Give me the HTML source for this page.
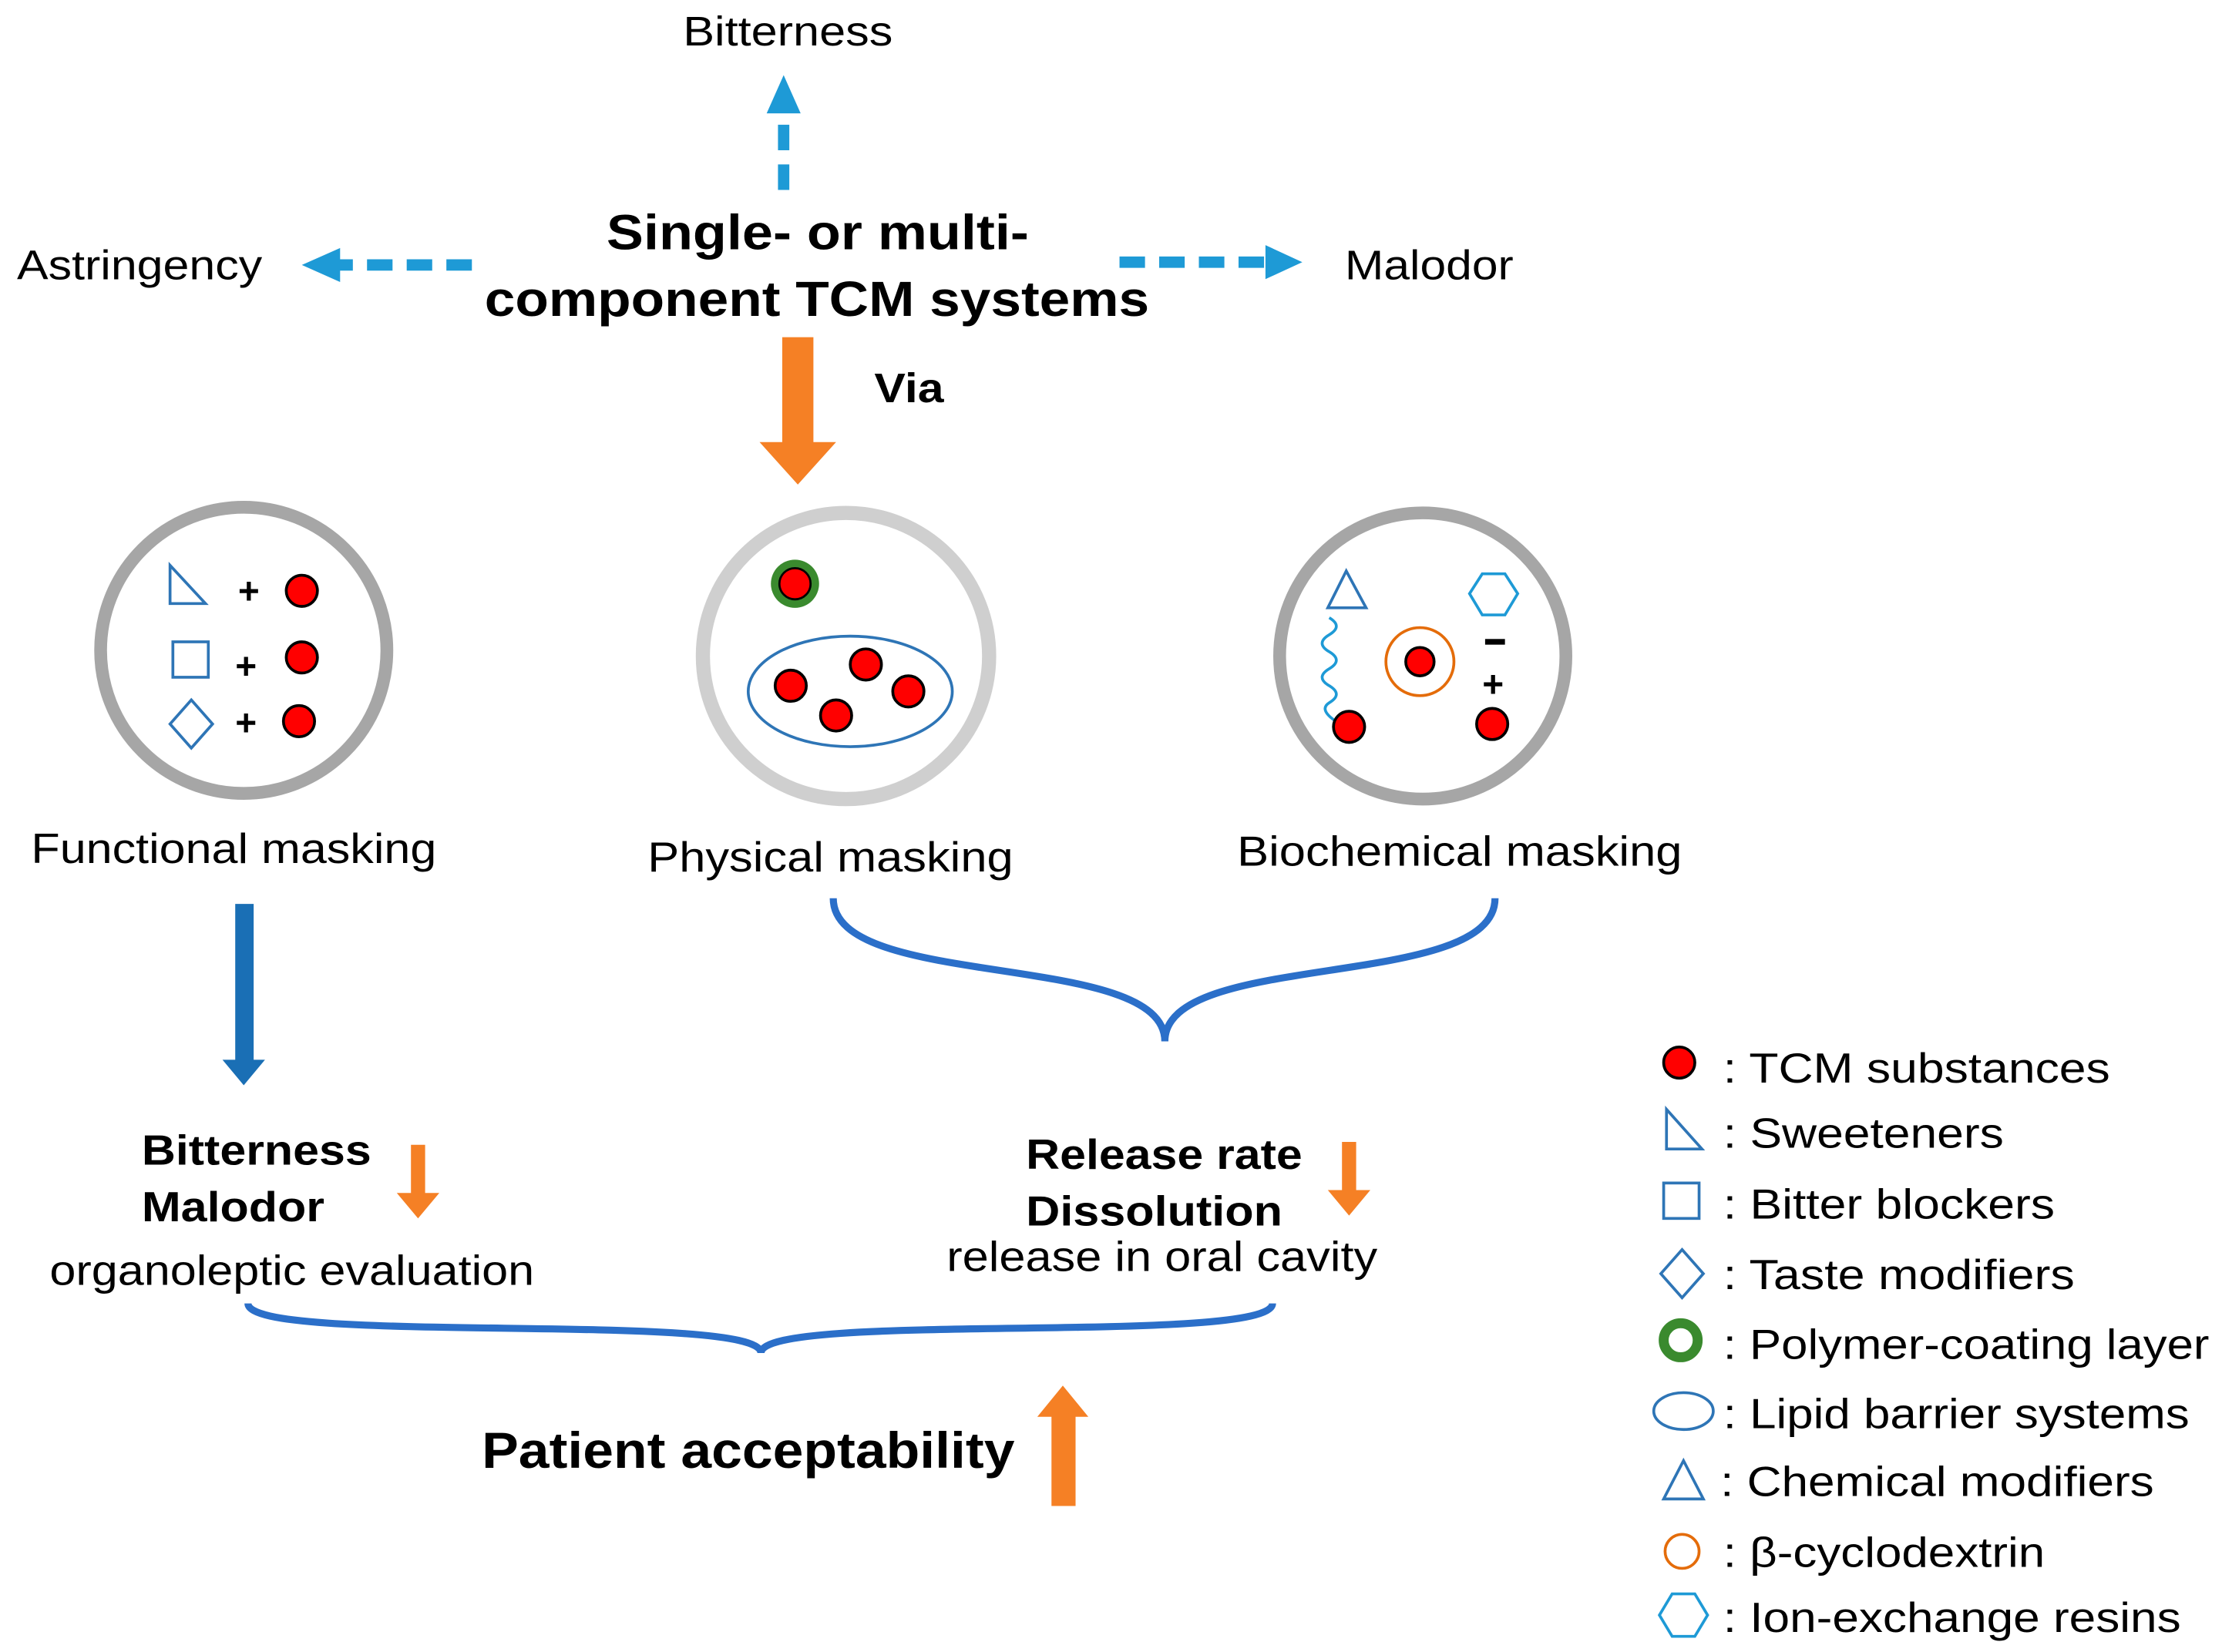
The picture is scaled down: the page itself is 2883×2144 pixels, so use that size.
<!DOCTYPE html>
<html><head><meta charset="utf-8"><style>
html,body{margin:0;padding:0;background:#fff;}
svg{display:block;}
text{font-family:"Liberation Sans",Arial,sans-serif;fill:#000;}
</style></head><body>
<svg width="2883" height="2144" viewBox="0 0 1568 1166" xmlns="http://www.w3.org/2000/svg">
<g lengthAdjust="spacingAndGlyphs">
<text x="482" y="32" font-size="29" textLength="148" lengthAdjust="spacingAndGlyphs">Bitterness</text>
<text x="12" y="197" font-size="29" textLength="173" lengthAdjust="spacingAndGlyphs">Astringency</text>
<text x="949" y="197" font-size="29" textLength="119" lengthAdjust="spacingAndGlyphs">Malodor</text>
<text x="428" y="176" font-size="35" font-weight="bold" textLength="298" lengthAdjust="spacingAndGlyphs">Single- or multi-</text>
<text x="342" y="223" font-size="35" font-weight="bold" textLength="469" lengthAdjust="spacingAndGlyphs">component TCM systems</text>
<text x="617" y="284" font-size="29" font-weight="bold" textLength="49" lengthAdjust="spacingAndGlyphs">Via</text>
</g>
<g stroke="#1e9ad6" stroke-width="8" fill="none" stroke-dasharray="18,10">
<line x1="553" y1="134" x2="553" y2="78"/>
<line x1="333" y1="187" x2="238" y2="187"/>
<line x1="790" y1="185" x2="895" y2="185"/>
</g>
<g fill="#1e9ad6">
<polygon points="541,80 565,80 553,53"/>
<polygon points="240,175 240,199 213,187"/>
<polygon points="893,173 893,197 919,185"/>
</g>
<polygon points="552,238 574,238 574,312 590,312 563,342 536,312 552,312" fill="#f58025"/>
<circle cx="172" cy="459" r="101" fill="#fff" stroke="#a6a6a6" stroke-width="9"/>
<circle cx="597" cy="463" r="101" fill="#fff" stroke="#cfcfcf" stroke-width="10"/>
<circle cx="1004" cy="463" r="101" fill="#fff" stroke="#a6a6a6" stroke-width="9"/>
<g stroke="#2e75b6" stroke-width="2" fill="none">
<polygon points="120,399 120,426 145,426"/>
<rect x="122" y="453" width="25" height="25"/>
<polygon points="135,494 150,511 135,528 120,511"/>
</g>
<g font-size="26" font-weight="bold"><text x="168" y="426">+</text><text x="166" y="479">+</text><text x="166" y="519">+</text></g>
<g fill="#ff0000" stroke="#000" stroke-width="2">
<circle cx="213" cy="417" r="11"/><circle cx="213" cy="464" r="11"/><circle cx="211" cy="509" r="11"/>
</g>
<circle cx="561" cy="412" r="17" fill="#3a8a2e"/>
<circle cx="561" cy="412" r="11" fill="#ff0000" stroke="#000" stroke-width="1.5"/>
<ellipse cx="600" cy="488" rx="72" ry="39" fill="none" stroke="#2e75b6" stroke-width="2"/>
<g fill="#ff0000" stroke="#000" stroke-width="2">
<circle cx="558" cy="484" r="11"/><circle cx="611" cy="469" r="11"/><circle cx="641" cy="488" r="11"/><circle cx="590" cy="505" r="11"/>
</g>
<polygon points="950,403 937,429 964,429" fill="none" stroke="#2e75b6" stroke-width="2"/>
<polygon points="1046,405 1062,405 1071,419 1062,434 1046,434 1037,419" fill="none" stroke="#1e9ad6" stroke-width="2"/>
<path d="M938,436 q10,6 0,12 q-10,6 0,12 q10,6 0,12 q-10,6 0,12 q10,6 0,12 q-8,5 6,14" fill="none" stroke="#1e9ad6" stroke-width="2"/>
<circle cx="1002" cy="467" r="24" fill="none" stroke="#e46c0a" stroke-width="2"/>
<g fill="#ff0000" stroke="#000" stroke-width="2">
<circle cx="1002" cy="467" r="10"/><circle cx="952" cy="513" r="11"/><circle cx="1053" cy="511" r="11"/>
</g>
<rect x="1048" y="451" width="14" height="4" fill="#000"/>
<text x="1046" y="492" font-size="26" font-weight="bold">+</text>
<text x="22" y="609" font-size="30" textLength="286" lengthAdjust="spacingAndGlyphs">Functional masking</text>
<text x="457" y="615" font-size="30" textLength="258" lengthAdjust="spacingAndGlyphs">Physical masking</text>
<text x="873" y="611" font-size="30" textLength="314" lengthAdjust="spacingAndGlyphs">Biochemical masking</text>
<polygon points="166,638 179,638 179,748 187,748 172,766 157,748 166,748" fill="#1a6fb5"/>
<path d="M588,634 C588,700 822,670 822,735 C822,670 1055,700 1055,634" fill="none" stroke="#2b6fc9" stroke-width="5"/>
<text x="100" y="822" font-size="30" font-weight="bold" textLength="162" lengthAdjust="spacingAndGlyphs">Bitterness</text>
<text x="100" y="862" font-size="30" font-weight="bold" textLength="129" lengthAdjust="spacingAndGlyphs">Malodor</text>
<text x="35" y="907" font-size="30" textLength="342" lengthAdjust="spacingAndGlyphs">organoleptic evaluation</text>
<polygon points="290,808 300,808 300,842 310,842 295,860 280,842 290,842" fill="#f58025"/>
<text x="724" y="825" font-size="30" font-weight="bold" textLength="195" lengthAdjust="spacingAndGlyphs">Release rate</text>
<text x="724" y="865" font-size="30" font-weight="bold" textLength="181" lengthAdjust="spacingAndGlyphs">Dissolution</text>
<text x="668" y="897" font-size="30" textLength="304" lengthAdjust="spacingAndGlyphs">release in oral cavity</text>
<polygon points="947,806 957,806 957,840 967,840 952,858 937,840 947,840" fill="#f58025"/>
<path d="M175,920 C175,950 537,925 537,955 C537,925 898,950 898,920" fill="none" stroke="#2b6fc9" stroke-width="5"/>
<text x="340" y="1036" font-size="36" font-weight="bold" textLength="376" lengthAdjust="spacingAndGlyphs">Patient acceptability</text>
<polygon points="742,1063 759,1063 759,1000 768,1000 750,978 732,1000 742,1000" fill="#f58025"/>
<g font-size="30">
<circle cx="1185" cy="750" r="11" fill="#ff0000" stroke="#000" stroke-width="2"/>
<text x="1216" y="764" textLength="273" lengthAdjust="spacingAndGlyphs">: TCM substances</text>
<polygon points="1176,783 1176,811 1201,811" fill="none" stroke="#2e75b6" stroke-width="2"/>
<text x="1216" y="810" textLength="198" lengthAdjust="spacingAndGlyphs">: Sweeteners</text>
<rect x="1174" y="835" width="25" height="25" fill="none" stroke="#2e75b6" stroke-width="2"/>
<text x="1216" y="860" textLength="234" lengthAdjust="spacingAndGlyphs">: Bitter blockers</text>
<polygon points="1187,882 1202,899 1187,916 1172,899" fill="none" stroke="#2e75b6" stroke-width="2"/>
<text x="1216" y="910" textLength="248" lengthAdjust="spacingAndGlyphs">: Taste modifiers</text>
<circle cx="1186" cy="946" r="12" fill="none" stroke="#3a8a2e" stroke-width="7"/>
<text x="1216" y="959" textLength="343" lengthAdjust="spacingAndGlyphs">: Polymer-coating layer</text>
<ellipse cx="1188" cy="996" rx="21" ry="13" fill="none" stroke="#2e75b6" stroke-width="2"/>
<text x="1216" y="1008" textLength="329" lengthAdjust="spacingAndGlyphs">: Lipid barrier systems</text>
<polygon points="1188,1031 1174,1058 1202,1058" fill="none" stroke="#2e75b6" stroke-width="2"/>
<text x="1214" y="1056" textLength="306" lengthAdjust="spacingAndGlyphs">: Chemical modifiers</text>
<circle cx="1187" cy="1095" r="12" fill="none" stroke="#e46c0a" stroke-width="2"/>
<text x="1216" y="1106" textLength="227" lengthAdjust="spacingAndGlyphs">: β-cyclodextrin</text>
<polygon points="1180,1125 1196,1125 1205,1140 1196,1155 1180,1155 1171,1140" fill="none" stroke="#1e9ad6" stroke-width="2"/>
<text x="1216" y="1152" textLength="323" lengthAdjust="spacingAndGlyphs">: Ion-exchange resins</text>
</g>
</svg>
</body></html>
